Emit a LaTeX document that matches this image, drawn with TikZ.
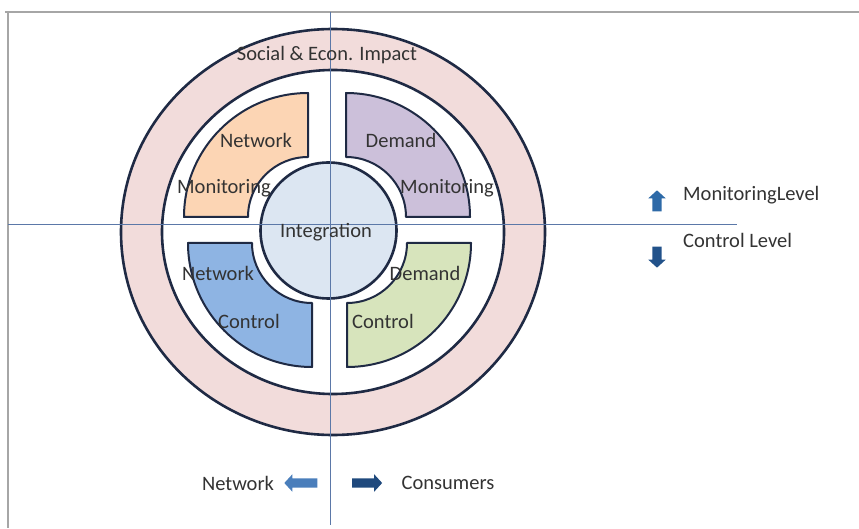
\documentclass[tikz,border=0pt]{standalone}
\usepackage{fontspec}
\setmainfont{Carlito}
\usetikzlibrary{shapes.arrows}
\definecolor{ringline}{HTML}{1F2A44}
\definecolor{ringpink}{HTML}{F2DCDB}
\definecolor{axisblue}{HTML}{5B78A8}
\definecolor{framegray}{HTML}{A6A6A6}
\definecolor{nmfill}{HTML}{FCD5B4}
\definecolor{dmfill}{HTML}{CCC0DA}
\definecolor{ncfill}{HTML}{8EB4E3}
\definecolor{dcfill}{HTML}{D7E4BC}
\definecolor{intfill}{HTML}{DCE6F2}
\definecolor{txt}{HTML}{333333}
\definecolor{arrowup}{HTML}{2E6AA8}
\definecolor{arrowdown}{HTML}{22528A}
\definecolor{arrowdark}{HTML}{1F497D}
\definecolor{arrowlight}{HTML}{4A7EBB}
\tikzset{
  ring/.style={draw=ringline, line width=2.6pt},
  piece/.style={draw=ringline, line width=2pt, line join=round},
  axis/.style={draw=axisblue, line width=1pt},
  lbl/.style={text=txt, font=\fontsize{20.5}{24}\selectfont, inner sep=0pt},
  blockarrow/.style={single arrow, draw=none, inner sep=4.5pt, minimum width=17pt,
    single arrow head extend=4pt, single arrow tip angle=95},
}
\begin{document}
\begin{tikzpicture}[x=1pt,y=1pt]
\useasboundingbox (0,0) rectangle (859,528);
% page frame
\draw[framegray, line width=1.8pt] (5,516) -- (859,516);
\draw[framegray, line width=1.8pt] (8,516) -- (8,0);

% outer impact ring and white disc inside it
\filldraw[ring, fill=ringpink] (333,296) ellipse [x radius=212, y radius=203];
\filldraw[ring, fill=white] (333,296) ellipse [x radius=171, y radius=162];

% four quadrant pieces (quarter annuli)
\filldraw[piece, fill=nmfill] (184,311) arc[start angle=180, end angle=90, radius=124]
  -- (308,371) arc[start angle=90, end angle=180, radius=60] -- cycle;
\filldraw[piece, fill=dmfill] (346,435) arc[start angle=90, end angle=0, radius=124]
  -- (406,311) arc[start angle=0, end angle=90, radius=60] -- cycle;
\filldraw[piece, fill=ncfill] (188,285) arc[start angle=180, end angle=270, radius=124]
  -- (312,225) arc[start angle=270, end angle=180, radius=60] -- cycle;
\filldraw[piece, fill=dcfill] (347,161) arc[start angle=270, end angle=360, radius=124]
  -- (407,285) arc[start angle=360, end angle=270, radius=60] -- cycle;

% central integration disc
\filldraw[ring, fill=intfill] (328.5,297.5) circle [radius=68];

% axes
\draw[axis] (8,303) -- (737,303);
\draw[axis] (330,516) -- (330,3);

% labels inside the wheel
\node[lbl] (impact) at (327,473) {Social \& Econ. Impact};
\node[lbl] (nm1) at (256,388) {Network};
\node[lbl] (nm2) at (224,340) {Monitoring};
\node[lbl] (dm1) at (401,388) {Demand};
\node[lbl] (dm2) at (447,340) {Monitoring};
\node[lbl] (integ) at (326,296) {Integration};
\node[lbl] (nc1) at (218,255) {Network};
\node[lbl] (nc2) at (249,207) {Control};
\node[lbl] (dc1) at (425,255) {Demand};
\node[lbl] (dc2) at (383,207) {Control};

% level legend
\node[blockarrow, fill=arrowup, shape border rotate=90, minimum height=21pt] (uparr) at (657,325) {};
\node[lbl, anchor=west] (monlevel) at (683,333) {MonitoringLevel};
\node[blockarrow, fill=arrowdown, shape border rotate=270, minimum height=21pt] (downarr) at (657,273) {};
\node[lbl, anchor=west] (ctllevel) at (683,288) {Control Level};

% side legend
\node[lbl] (netside) at (238,45) {Network};
\node[blockarrow, fill=arrowlight, shape border rotate=180, minimum height=33pt] (leftarr) at (303,45) {};
\node[blockarrow, fill=arrowdark, minimum height=30pt] (rightarr) at (365,45) {};
\node[lbl] (consside) at (448,45) {Consumers};
\end{tikzpicture}
\end{document}
